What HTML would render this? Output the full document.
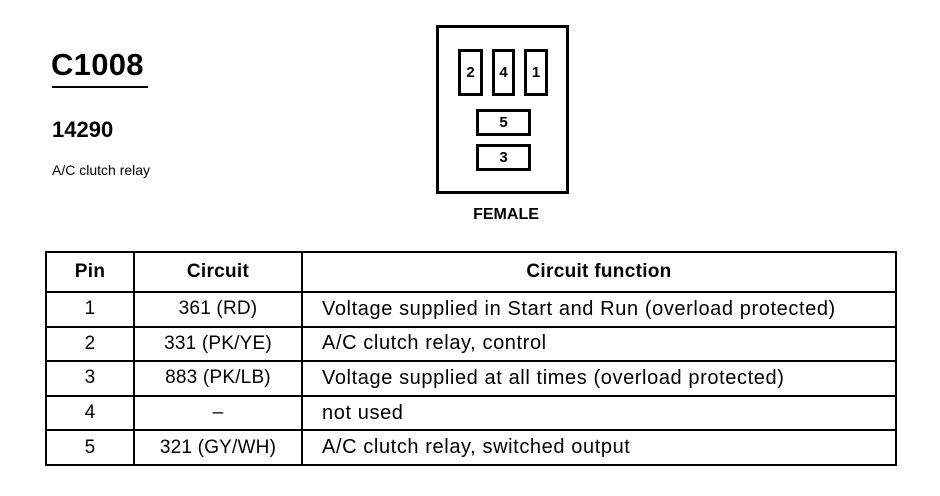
<!DOCTYPE html>
<html><head><style>
body{margin:0;width:940px;height:496px;background:#fff;position:relative;font-family:"Liberation Sans",Arial,sans-serif;color:#000;overflow:hidden}
.a{position:absolute}
.pin{position:absolute;border:3px solid #000;box-sizing:border-box;font-weight:bold;font-size:15px;display:flex;align-items:center;justify-content:center}
table{position:absolute;left:45px;top:251px;border-collapse:collapse;width:852px}
td{border:2px solid #000;font-size:19px;height:32.6px;padding:0;text-align:center;letter-spacing:0.2px}
td.f{text-align:left;padding-left:19px;font-size:20px;letter-spacing:0.6px}
tr.h td{font-weight:bold;height:38px;letter-spacing:0.3px}
</style></head><body>
<div class="a" style="left:51px;top:47px;font-size:31px;font-weight:bold;letter-spacing:0.3px">C1008</div>
<div class="a" style="left:52px;top:86px;width:96px;height:2px;background:#000"></div>
<div class="a" style="left:52px;top:117px;font-size:22px;font-weight:bold">14290</div>
<div class="a" style="left:52px;top:162px;font-size:14px">A/C clutch relay</div>
<div class="a" style="left:436px;top:25px;width:133px;height:169px;border:3px solid #000;box-sizing:border-box"></div>
<div class="pin" style="left:458px;top:49px;width:25px;height:47px">2</div>
<div class="pin" style="left:492px;top:49px;width:23px;height:47px">4</div>
<div class="pin" style="left:524px;top:49px;width:24px;height:47px">1</div>
<div class="pin" style="left:476px;top:109px;width:55px;height:27px">5</div>
<div class="pin" style="left:476px;top:144px;width:55px;height:27px">3</div>
<div class="a" style="left:461px;top:206px;font-size:16px;font-weight:bold;width:90px;text-align:center">FEMALE</div>
<table>
<tr class="h"><td style="width:86px">Pin</td><td style="width:166px">Circuit</td><td>Circuit function</td></tr>
<tr><td>1</td><td>361 (RD)</td><td class="f">Voltage supplied in Start and Run (overload protected)</td></tr>
<tr><td>2</td><td>331 (PK/YE)</td><td class="f">A/C clutch relay, control</td></tr>
<tr><td>3</td><td>883 (PK/LB)</td><td class="f">Voltage supplied at all times (overload protected)</td></tr>
<tr><td>4</td><td>–</td><td class="f">not used</td></tr>
<tr><td>5</td><td>321 (GY/WH)</td><td class="f">A/C clutch relay, switched output</td></tr>
</table>
</body></html>
